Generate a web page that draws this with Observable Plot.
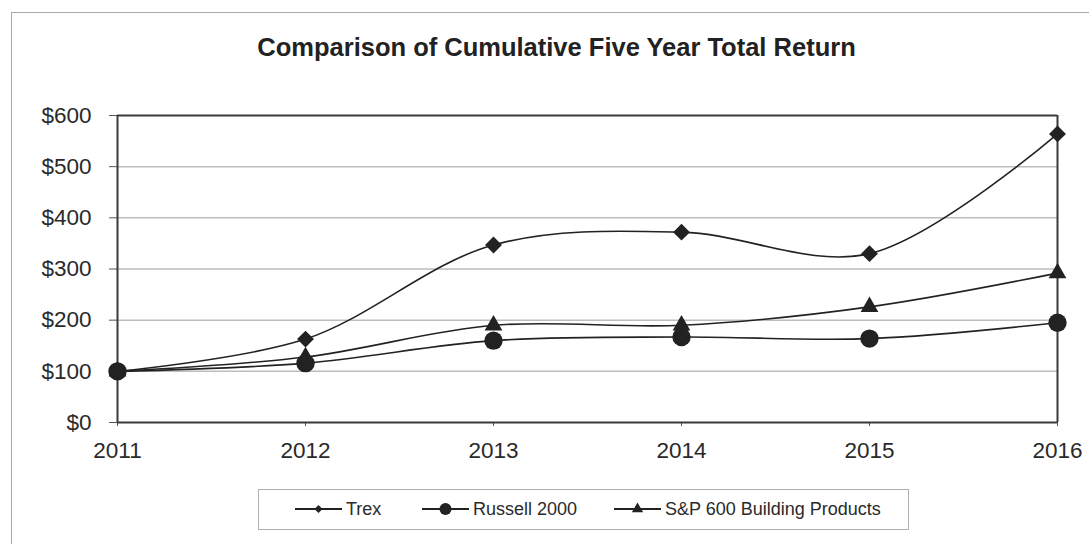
<!DOCTYPE html>
<html>
<head>
<meta charset="utf-8">
<script src="https://cdn.jsdelivr.net/npm/d3@7"></script>
<script src="https://cdn.jsdelivr.net/npm/@observablehq/plot@0.6"></script>
<style>
  html, body { margin: 0; padding: 0; background: #fff; }
  body { width: 1089px; height: 544px; position: relative; overflow: hidden; font-family: "Liberation Sans", Arial, sans-serif; color: #222; }
  #border { position: absolute; left: 11px; top: 12px; width: 1110px; height: 600px; border: 1.5px solid #a8a8a8; box-sizing: border-box; }
  #title { position: absolute; left: 0; top: 33px; width: 1113px; text-align: center; font-weight: bold; font-size: 25.5px; color: #222; white-space: nowrap; }
  #chart { position: absolute; left: 0; top: 0; }
  #legend { position: absolute; left: 258px; top: 489px; width: 651px; height: 41px; border: 1.5px solid #b0b0b0; box-sizing: border-box; font-size: 18px; color: #2a2a2a; }
  .item { position: absolute; top: 9px; display: flex; align-items: center; height: 20px; white-space: nowrap; }
  .item svg { display: block; margin-right: 4px; }
</style>
</head>
<body>
<div id="border"></div>
<div id="title">Comparison of Cumulative Five Year Total Return</div>
<div id="chart"></div>
<div id="legend"></div>
<script>
const years = [2011, 2012, 2013, 2014, 2015, 2016];
const seriesNames = ["Trex", "Russell 2000", "S&P 600 Building Products"];
const trex = [100, 163, 347, 372, 330, 564];
const russell = [100, 116, 160, 167, 164, 195];
const spBuilding = [100, 128, 190, 190, 226, 292];
const yTicks = [0, 100, 200, 300, 400, 500, 600];

const symbols = {"Trex": "diamond2", "Russell 2000": "circle", "S&P 600 Building Products": "triangle"};
const radii = {"Trex": 7.6, "Russell 2000": 9.2, "S&P 600 Building Products": 6.6};
const legendRadii = {"Trex": 3.6, "Russell 2000": 6, "S&P 600 Building Products": 4.2};
const valuesBy = {"Trex": trex, "Russell 2000": russell, "S&P 600 Building Products": spBuilding};

const data = seriesNames.flatMap(name => years.map((year, i) => ({name, year, value: valuesBy[name][i]})));

const ink = "#222";
const fmtY = d => "$" + d;
const plot = Plot.plot({
  width: 1089,
  height: 544,
  marginLeft: 117,
  marginRight: 32,
  marginTop: 115,
  marginBottom: 122,
  style: {fontFamily: "'Liberation Sans', Arial, sans-serif", fontSize: "22.5px", color: "#2a2a2a", background: "transparent", overflow: "visible"},
  x: {domain: [2011, 2016], label: null},
  y: {domain: [0, 600], label: null},
  marks: [
    Plot.ruleY(yTicks.slice(1, -1), {stroke: "#bdbdbd", strokeWidth: 1.5}),
    Plot.axisY({ticks: yTicks, tickFormat: fmtY, tickSize: 8, tickPadding: 18, stroke: "#555", label: null}),
    Plot.axisX({ticks: years, tickFormat: d => String(d), tickSize: 4, tickPadding: 16, stroke: "#555", label: null}),
    Plot.ruleY([0, 600], {stroke: "#3a3a3a", strokeWidth: 2}),
    Plot.ruleX([2011, 2016], {stroke: "#3a3a3a", strokeWidth: 2}),
    Plot.line(data, {x: "year", y: "value", z: "name", curve: "catmull-rom", stroke: ink, strokeWidth: 1.6}),
    ...seriesNames.map(name => Plot.dot(data.filter(d => d.name === name), {x: "year", y: "value", symbol: symbols[name], r: radii[name], fill: ink, stroke: "none"}))
  ]
});
document.getElementById("chart").appendChild(plot);

// legend
const legendLeft = [36, 163, 355];
const legend = document.getElementById("legend");
const d3Sym = {diamond2: d3.symbolDiamond2, circle: d3.symbolCircle, triangle: d3.symbolTriangle};
seriesNames.forEach((name, i) => {
  const item = document.createElement("div");
  item.className = "item";
  item.style.left = legendLeft[i] + "px";
  const sym = d3.symbol(d3Sym[symbols[name]], Math.PI * legendRadii[name] * legendRadii[name])();
  item.innerHTML = `<svg width="47" height="20"><line x1="0" x2="47" y1="10" y2="10" stroke="${ink}" stroke-width="1.8"/><path d="${sym}" transform="translate(23.5,10)" fill="${ink}"/></svg><span>${name.replace("&", "&amp;")}</span>`;
  legend.appendChild(item);
});
</script>
</body>
</html>
